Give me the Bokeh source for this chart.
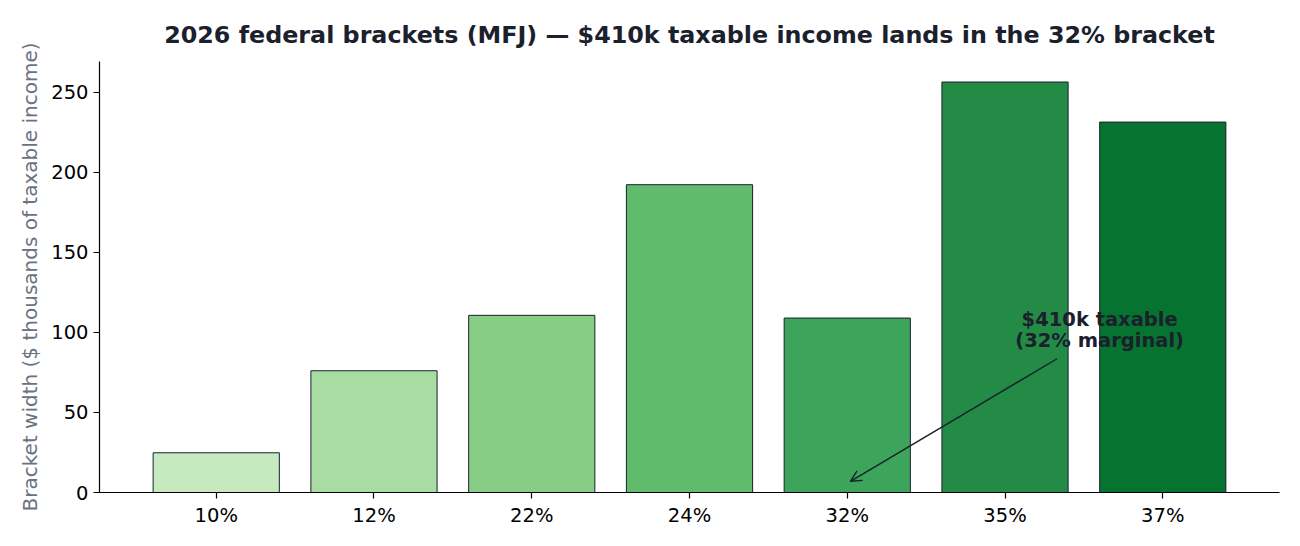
from bokeh.plotting import figure
from bokeh.models import Range1d, FixedTicker, ColumnDataSource, Arrow, OpenHead, Label
from bokeh.embed import file_html
from bokeh.resources import INLINE

# ---- data ----
brackets = ["10%", "12%", "22%", "24%", "32%", "35%", "37%"]
widths_k = [24.8, 76.0, 110.6, 192.15, 108.9, 256.25, 231.25]
colors = ["#c7e9c0", "#a9dca3", "#88cd86", "#61bb6d", "#3ca55b", "#238b45", "#077331"]
y_ticks = [0, 50, 100, 150, 200, 250]
annot_lines = ["$410k taxable", "(32% marginal)"]
annot_bracket = "32%"
annot_tip_y = 7.0          # arrow tip (thousands)
annot_text_x = 5.6         # text centre (category units)
annot_text_y = 100.0       # text centre (thousands)

FONT = "DejaVu Sans"
DARK = "#1a202c"

xs = list(range(len(brackets)))
src = ColumnDataSource(dict(x=xs, top=widths_k, color=colors))

p = figure(width=1300, height=546, output_backend="svg", toolbar_location=None,
           x_range=Range1d(-0.74, len(brackets) - 1 + 0.74),
           y_range=Range1d(0, max(widths_k) * 1.05),
           min_border_left=99, min_border_right=21, min_border_top=61, min_border_bottom=54)

p.vbar(x="x", top="top", width=0.8, bottom=0, fill_color="color",
       line_color=DARK, line_width=1.0, source=src)

# title
p.title.text = "2026 federal brackets (MFJ) \u2014 $410k taxable income lands in the 32% bracket"
p.title.align = "center"
p.title.text_font = FONT
p.title.text_font_size = "23.8px"
p.title.text_font_style = "bold"
p.title.text_color = DARK
p.title.standoff = 26

p.outline_line_color = None
p.xgrid.grid_line_color = None
p.ygrid.grid_line_color = None
p.background_fill_color = "white"
p.border_fill_color = "white"

# x axis
p.xaxis.ticker = FixedTicker(ticks=xs)
p.xaxis.major_label_overrides = {i: b for i, b in enumerate(brackets)}
# y axis
p.yaxis.ticker = FixedTicker(ticks=y_ticks)
p.yaxis.axis_label = "Bracket width ($ thousands of taxable income)"
p.yaxis.axis_label_text_font = FONT
p.yaxis.axis_label_text_font_size = "20px"
p.yaxis.axis_label_text_font_style = "normal"
p.yaxis.axis_label_text_color = "#6b7280"
p.yaxis.axis_label_standoff = 6

for ax in (p.xaxis, p.yaxis):
    ax.major_label_text_font = FONT
    ax.major_label_text_font_size = "19.5px"
    ax.major_label_text_color = "black"
    ax.axis_line_color = "black"
    ax.axis_line_width = 1.2
    ax.major_tick_line_color = "black"
    ax.major_tick_line_width = 1.2
    ax.major_tick_out = 6
    ax.major_tick_in = 0
    ax.minor_tick_line_color = None
    ax.major_label_standoff = 5

# annotation
tip_x = brackets.index(annot_bracket)
p.add_layout(Arrow(end=OpenHead(size=11, line_color=DARK, line_width=1.4),
                   x_start=annot_text_x - 0.27, y_start=annot_text_y - 16.5,
                   x_end=tip_x + 0.02, y_end=annot_tip_y,
                   line_color=DARK, line_width=1.4))
line_gap = 13.5
for i, t in enumerate(annot_lines):
    p.add_layout(Label(x=annot_text_x, y=annot_text_y + line_gap / 2 - i * line_gap + 1.5,
                       text=t, text_align="center", text_baseline="middle",
                       text_font=FONT, text_font_size="19.5px", text_font_style="bold",
                       text_color=DARK))

open("out.html", "w").write(file_html(p, INLINE))
